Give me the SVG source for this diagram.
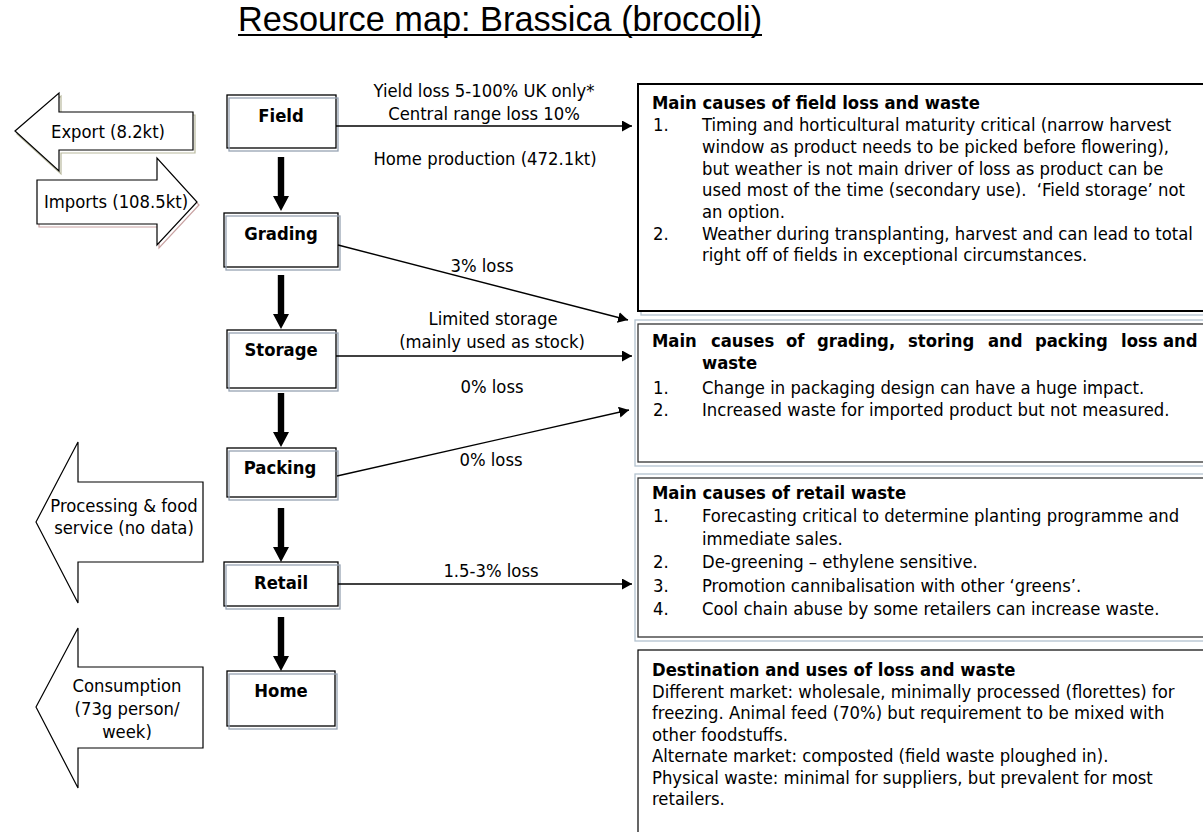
<svg xmlns="http://www.w3.org/2000/svg" width="1203" height="832" viewBox="0 0 1203 832">
  <defs>
    <marker id="ah" viewBox="0 0 10 11" refX="10" refY="5.5" markerWidth="10" markerHeight="11" markerUnits="userSpaceOnUse" orient="auto">
      <path d="M0,0 L10,5.5 L0,11 Z" fill="#000"/>
    </marker>
    <!-- thick downward flow arrow, origin at top centre -->
    <path id="dn" d="M-3.2,0 H3.2 V39 H8 L0,54 L-8,39 H-3.2 Z" fill="#000"/>
  </defs>
  <style>
    .t{font-family:"DejaVu Sans Condensed","DejaVu Sans",sans-serif;font-size:18.3px;fill:#000}
    .b{font-weight:bold}
    .m{text-anchor:middle}
    .box{fill:#fff;stroke:#000;stroke-width:1.3}
    .sh{fill:none;stroke:#97a3b3;stroke-width:1.3}
    .ln{fill:none;stroke:#000;stroke-width:1.4;marker-end:url(#ah)}
    .blk{fill:#fff;stroke:#000;stroke-width:1.2}
    .rb{fill:#fff;stroke:#333;stroke-width:1.3}
    .rs{fill:none;stroke:#b3c2cf;stroke-width:1.3}
  </style>
  <rect width="1203" height="832" fill="#fff"/>

  <!-- title -->
  <g id="title">
    <text x="238" y="31" style="font-family:'Liberation Sans',Arial,sans-serif;font-size:34.3px">Resource map: Brassica (broccoli)</text>
    <line x1="238" y1="35" x2="762" y2="35" stroke="#000" stroke-width="2.2"/>
  </g>

  <!-- trade and outflow block arrows -->
  <g id="export">
    <polygon points="17,134 61,96 61,115 195,115 195,153 61,153 61,174" fill="none" stroke="#b9b99e" stroke-width="1.2"/>
    <polygon class="blk" points="15,131 59,93 59,112 193,112 193,150 59,150 59,171"/>
    <text class="t m" x="108" y="138">Export (8.2kt)</text>
  </g>
  <g id="imports">
    <polygon points="39,183 159,183 159,161 199,205 159,248 159,227 39,227" fill="none" stroke="#c9a2a2" stroke-width="1.2"/>
    <polygon class="blk" points="37,180 157,180 157,158 197,202 157,245 157,224 37,224"/>
    <text class="t m" x="116" y="208">Imports (108.5kt)</text>
  </g>
  <g id="processing">
    <polygon class="blk" points="36,522 78,442 78,482 203,482 203,562 78,562 78,603"/>
    <text class="t m" x="124" y="512">Processing &amp; food</text>
    <text class="t m" x="124" y="534">service (no data)</text>
  </g>
  <g id="consumption">
    <polygon class="blk" points="36,707 78,628 78,667 203,667 203,748 78,748 78,788"/>
    <text class="t m" x="127" y="692">Consumption</text>
    <text class="t m" x="127" y="715">(73g person/</text>
    <text class="t m" x="127" y="738">week)</text>
  </g>

  <!-- supply chain stages -->
  <g id="field">
    <rect class="box" x="227" y="95" width="109" height="53"/>
    <rect class="sh" x="229" y="98" width="109" height="53"/>
    <text class="t b m" x="281" y="122">Field</text>
  </g>
  <g id="grading">
    <rect class="box" x="224" y="213" width="114" height="54"/>
    <rect class="sh" x="226" y="216" width="114" height="54"/>
    <text class="t b m" x="281" y="240">Grading</text>
  </g>
  <g id="storage">
    <rect class="box" x="227" y="330" width="109" height="58"/>
    <rect class="sh" x="229" y="333" width="109" height="58"/>
    <text class="t b m" x="281" y="356">Storage</text>
  </g>
  <g id="packing">
    <rect class="box" x="227" y="448" width="109" height="49"/>
    <rect class="sh" x="229" y="451" width="109" height="49"/>
    <text class="t b m" x="280" y="474">Packing</text>
  </g>
  <g id="retail">
    <rect class="box" x="224" y="562" width="114" height="44"/>
    <rect class="sh" x="226" y="565" width="114" height="44"/>
    <text class="t b m" x="281" y="589">Retail</text>
  </g>
  <g id="home">
    <rect class="box" x="227" y="671" width="108" height="55"/>
    <rect class="sh" x="229" y="674" width="108" height="55"/>
    <text class="t b m" x="281" y="697">Home</text>
  </g>

  <!-- cause boxes -->
  <g id="field-causes">
    <rect class="rs" x="641" y="88" width="600" height="227"/>
    <rect x="638" y="84" width="600" height="227" fill="#fff" stroke="#000" stroke-width="2"/>
    <text class="t b" x="652" y="109">Main causes of field loss and waste</text>
    <text class="t" x="653" y="131">1.</text>
    <text class="t" x="702" y="131">Timing and horticultural maturity critical (narrow harvest</text>
    <text class="t" x="702" y="153">window as product needs to be picked before flowering),</text>
    <text class="t" x="702" y="175">but weather is not main driver of loss as product can be</text>
    <text class="t" x="702" y="196">used most of the time (secondary use).&#160; ‘Field storage’ not</text>
    <text class="t" x="702" y="218">an option.</text>
    <text class="t" x="653" y="240">2.</text>
    <text class="t" x="702" y="240">Weather during transplanting, harvest and can lead to total</text>
    <text class="t" x="702" y="261">right off of fields in exceptional circumstances.</text>
  </g>
  <g id="grading-causes">
    <rect class="rs" x="635" y="320" width="606" height="146"/>
    <rect class="rb" x="638" y="324" width="600" height="138"/>
    <text class="t b" x="652" y="347">Main</text>
    <text class="t b" x="711" y="347">causes</text>
    <text class="t b" x="786" y="347">of</text>
    <text class="t b" x="817" y="347">grading,</text>
    <text class="t b" x="908" y="347">storing</text>
    <text class="t b" x="988" y="347">and</text>
    <text class="t b" x="1035" y="347">packing</text>
    <text class="t b" x="1121" y="347">loss</text>
    <text class="t b" x="1163" y="347">and</text>
    <text class="t b" x="702" y="369">waste</text>
    <text class="t" x="653" y="394">1.</text>
    <text class="t" x="702" y="394">Change in packaging design can have a huge impact.</text>
    <text class="t" x="653" y="416">2.</text>
    <text class="t" x="702" y="416">Increased waste for imported product but not measured.</text>
  </g>
  <g id="retail-causes">
    <rect class="rs" x="635" y="474" width="606" height="167"/>
    <rect class="rb" x="638" y="478" width="600" height="159"/>
    <text class="t b" x="652" y="499">Main causes of retail waste</text>
    <text class="t" x="653" y="522">1.</text>
    <text class="t" x="702" y="522">Forecasting critical to determine planting programme and</text>
    <text class="t" x="702" y="545">immediate sales.</text>
    <text class="t" x="653" y="568">2.</text>
    <text class="t" x="702" y="568">De-greening – ethylene sensitive.</text>
    <text class="t" x="653" y="592">3.</text>
    <text class="t" x="702" y="592">Promotion cannibalisation with other ‘greens’.</text>
    <text class="t" x="653" y="615">4.</text>
    <text class="t" x="702" y="615">Cool chain abuse by some retailers can increase waste.</text>
  </g>
  <g id="destination">
    <rect x="638" y="650" width="600" height="200" fill="#fff" stroke="#000" stroke-width="1.2"/>
    <text class="t b" x="652" y="676">Destination and uses of loss and waste</text>
    <text class="t" x="652" y="698">Different market: wholesale, minimally processed (florettes) for</text>
    <text class="t" x="652" y="719">freezing. Animal feed (70%) but requirement to be mixed with</text>
    <text class="t" x="652" y="741">other foodstuffs.</text>
    <text class="t" x="652" y="762">Alternate market: composted (field waste ploughed in).</text>
    <text class="t" x="652" y="784">Physical waste: minimal for suppliers, but prevalent for most</text>
    <text class="t" x="652" y="805">retailers.</text>
  </g>

  <!-- connectors -->
  <g id="connectors">
    <use href="#dn" x="281" y="157"/>
    <use href="#dn" x="281" y="275"/>
    <use href="#dn" x="281" y="393"/>
    <use href="#dn" x="281" y="508"/>
    <use href="#dn" x="281" y="617"/>
    <line class="ln" x1="336" y1="126" x2="632" y2="126"/>
    <line class="ln" x1="338" y1="245" x2="628" y2="320"/>
    <line class="ln" x1="336" y1="356" x2="632" y2="356"/>
    <line class="ln" x1="337" y1="476" x2="629" y2="410"/>
    <line class="ln" x1="338" y1="584" x2="632" y2="584"/>
    <text class="t m" x="484" y="97">Yield loss 5-100% UK only*</text>
    <text class="t m" x="484" y="120">Central range loss 10%</text>
    <text class="t m" x="485" y="165">Home production (472.1kt)</text>
    <text class="t m" x="482" y="272">3% loss</text>
    <text class="t m" x="493" y="325">Limited storage</text>
    <text class="t m" x="492" y="348">(mainly used as stock)</text>
    <text class="t m" x="492" y="393">0% loss</text>
    <text class="t m" x="491" y="466">0% loss</text>
    <text class="t m" x="491" y="577">1.5-3% loss</text>
  </g>
</svg>
